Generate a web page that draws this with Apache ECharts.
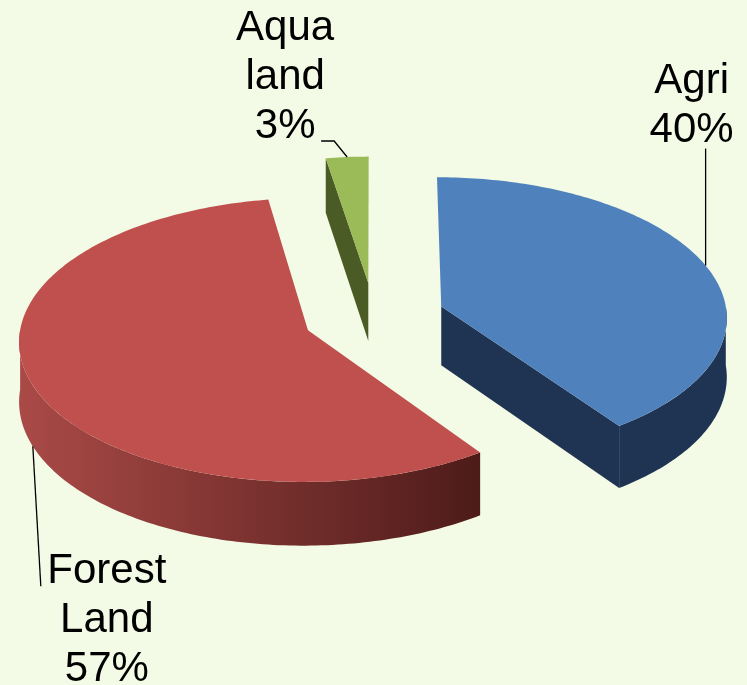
<!DOCTYPE html>
<html>
<head>
<meta charset="utf-8">
<script src="https://cdn.jsdelivr.net/npm/echarts@6/dist/echarts.min.js"></script>
<style>
  html, body { margin: 0; padding: 0; background: #F3FAE5; }
  #chart { width: 747px; height: 685px; }
</style>
</head>
<body>
<div id="chart"></div>
<script>
// land use shares (percent)
const categories = ['Agri', 'Forest Land', 'Aqua land']
const shares = [40.2, 57.2, 2.6]
const topColors = ['#4F81BD', '#C0504D', '#9BBB59']
const sideColors = [
  ['#1F3352', '#1F3352'],
  ['#AA4A47', '#4D1B19'],
  ['#4B5B25', '#4B5B25']
]

// 3D pie layout (pixels)
const CX = 374, CY = 317
const RX = 286, RY = 139.5
const DEPTH = 59
const PERSP = 0.068
const EXPLODE = 0.248

// label placement relative to the rim point at each slice's mid angle
const labelPlacement = [
  { face: 'top', line: [[0, -117]], dx: -14, dy: -111, valign: 'bottom' },
  { face: 'bottom', line: [[8, 140]], dx: 74, dy: 101, valign: 'top' },
  { face: 'top', line: [[-13, -16], [-26, -16]], dx: -62, dy: -6, valign: 'bottom' }
]

const total = shares.reduce((a, b) => a + b, 0)
const startAngles = []
let acc = 0
shares.forEach(v => {
  startAngles.push(acc / total * Math.PI * 2)
  acc += v
})

// plane point (x right, z toward viewer, in radius units) -> screen
function project(p, lift) {
  const s = 1 / (1 - PERSP * p[1])
  return [CX + RX * p[0] * s, CY + RY * p[1] * s + lift * s]
}

function rim(origin, theta) {
  return [origin[0] + Math.sin(theta), origin[1] - Math.cos(theta)]
}

function arcPoints(origin, a0, a1, lift) {
  const pts = []
  const n = Math.max(2, Math.ceil((a1 - a0) / (Math.PI / 180)))
  for (let k = 0; k <= n; k++) {
    pts.push(project(rim(origin, a0 + (a1 - a0) * k / n), lift))
  }
  return pts
}

function renderItem(params, api) {
  const i = params.dataIndex
  const a0 = startAngles[i]
  const a1 = a0 + api.value(0) / total * Math.PI * 2
  const mid = (a0 + a1) / 2
  const origin = [EXPLODE * Math.sin(mid), -EXPLODE * Math.cos(mid)]
  const apexTop = project(origin, 0)
  const apexBot = project(origin, DEPTH)
  const sideFill = new echarts.graphic.LinearGradient(0, 0, 1, 0, [
    { offset: 0, color: sideColors[i][0] },
    { offset: 1, color: sideColors[i][1] }
  ])
  const children = []

  // radial cut faces
  const radial = theta => {
    const t = project(rim(origin, theta), 0)
    const b = project(rim(origin, theta), DEPTH)
    children.push({
      type: 'polygon',
      shape: { points: [apexTop, t, b, apexBot] },
      style: { fill: sideColors[i][1] }
    })
  }
  if (Math.sin(a0) < -1e-3) radial(a0)
  if (Math.sin(a1) > 1e-3) radial(a1)

  // outer curved side, front half only
  const b0 = Math.max(a0, Math.PI / 2)
  const b1 = Math.min(a1, Math.PI * 1.5)
  if (b1 > b0) {
    const topArc = arcPoints(origin, b0, b1, 0)
    const botArc = arcPoints(origin, b0, b1, DEPTH).reverse()
    children.push({
      type: 'polygon',
      shape: { points: topArc.concat(botArc) },
      style: { fill: sideFill }
    })
  }

  // top face
  children.push({
    type: 'polygon',
    shape: { points: [apexTop].concat(arcPoints(origin, a0, a1, 0)) },
    style: { fill: topColors[i] }
  })

  // label + leader line
  const lp = labelPlacement[i]
  const anchor = project(rim(origin, mid), lp.face === 'bottom' ? DEPTH : 0)
  const linePts = [anchor].concat(lp.line.map(d => [anchor[0] + d[0], anchor[1] + d[1]]))
  children.push({
    type: 'polyline',
    shape: { points: linePts },
    style: { stroke: '#000', lineWidth: 1.3, fill: null }
  })
  const pct = Math.round(api.value(0) / total * 100)
  children.push({
    type: 'text',
    style: {
      text: categories[i].replace(' ', '\n') + '\n' + pct + '%',
      x: anchor[0] + lp.dx,
      y: anchor[1] + lp.dy,
      align: 'center',
      verticalAlign: lp.valign,
      fontFamily: 'Liberation Sans, Arial, sans-serif',
      fontSize: 42,
      lineHeight: 49,
      fill: '#000'
    }
  })

  return { type: 'group', children: children }
}

const chart = echarts.init(document.getElementById('chart'))
chart.setOption({
  backgroundColor: '#F3FAE5',
  animation: false,
  series: [
    {
      type: 'custom',
      coordinateSystem: 'none',
      silent: true,
      renderItem: renderItem,
      data: shares
    }
  ]
})
</script>
</body>
</html>
